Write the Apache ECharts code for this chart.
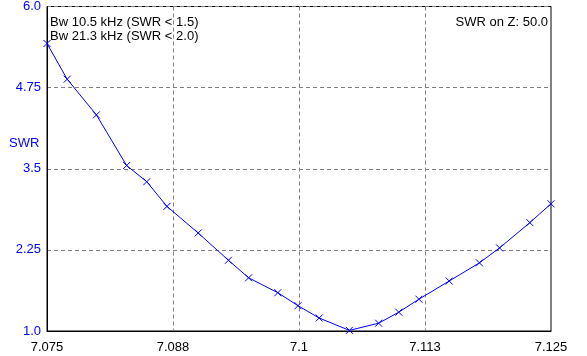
<!DOCTYPE html>
<html>
<head>
<meta charset="utf-8">
<script src="https://cdn.jsdelivr.net/npm/echarts@6/dist/echarts.min.js"></script>
<style>
html,body{margin:0;padding:0;background:#fff;}
#c{width:587px;height:356px;}
</style>
</head>
<body>
<div id="c"></div>
<script>
// Data
var freqs = [7.0750, 7.0770, 7.0799, 7.0829, 7.0849, 7.0869, 7.0900, 7.0930, 7.0950, 7.0979, 7.0999,
             7.1020, 7.1050, 7.1079, 7.1099, 7.1119, 7.1149, 7.1179, 7.1199, 7.1229, 7.1250];
var swr = [5.43, 4.88, 4.33, 3.55, 3.30, 2.92, 2.51, 2.09, 1.82, 1.59, 1.39,
           1.20, 1.01, 1.12, 1.29, 1.49, 1.77, 2.05, 2.28, 2.67, 2.96];
var xTickLabels = ['7.075', '7.088', '7.1', '7.113', '7.125'];
var yTickLabels = ['1.0', '2.25', '3.5', '4.75', '6.0'];
var infoLines = ['Bw 10.5 kHz (SWR < 1.5)', 'Bw 21.3 kHz (SWR < 2.0)'];
var zText = 'SWR on Z: 50.0';
var yName = 'SWR';

var points = freqs.map(function (f, i) { return [f, swr[i]]; });
var FONT = '"Liberation Sans", Arial, sans-serif';

var chart = echarts.init(document.getElementById('c'), null, {renderer: 'canvas'});
chart.setOption({
  animation: false,
  backgroundColor: '#ffffff',
  grid: {
    left: 47, top: 6, right: 36, bottom: 25,
    show: true, borderColor: '#000000', borderWidth: 1, backgroundColor: 'transparent'
  },
  xAxis: {
    type: 'value', min: 7.075, max: 7.125, interval: 0.0125,
    axisLine: {show: true, lineStyle: {color: '#000000', width: 1}},
    axisTick: {show: false},
    axisLabel: {
      color: '#000000', fontSize: 13, fontFamily: FONT, margin: 10,
      formatter: function (v) { return xTickLabels[Math.round((v - 7.075) / 0.0125)]; }
    },
    splitLine: {show: true, lineStyle: {color: '#808080', width: 1, type: [4, 3]}}
  },
  yAxis: {
    type: 'value', min: 1, max: 6, interval: 1.25,
    axisLine: {show: true, lineStyle: {color: '#000000', width: 1}},
    axisTick: {show: false},
    axisLabel: {
      color: '#0000ff', fontSize: 13, fontFamily: FONT, margin: 6,
      formatter: function (v) { return yTickLabels[Math.round((v - 1) / 1.25)]; }
    },
    splitLine: {show: true, lineStyle: {color: '#808080', width: 1, type: [4, 3]}}
  },
  graphic: [
    {type: 'text', left: 50, top: 16, style: {text: infoLines[0], fill: '#000', font: '13px ' + FONT}},
    {type: 'text', left: 50, top: 30, style: {text: infoLines[1], fill: '#000', font: '13px ' + FONT}},
    {type: 'text', right: 39, top: 16, style: {text: zText, fill: '#000', font: '13px ' + FONT}},
    {type: 'text', left: 9, top: 137, style: {text: yName, fill: '#0000ff', font: '13px ' + FONT}}
  ],
  series: [{
    type: 'line',
    data: points,
    lineStyle: {color: '#0000ff', width: 1},
    symbol: 'path://M0,0L10,10M10,0L0,10',
    symbolSize: 7,
    showSymbol: true,
    itemStyle: {color: '#0000ff', borderColor: '#0000ff', borderWidth: 1},
    clip: false
  }]
});
</script>
</body>
</html>
